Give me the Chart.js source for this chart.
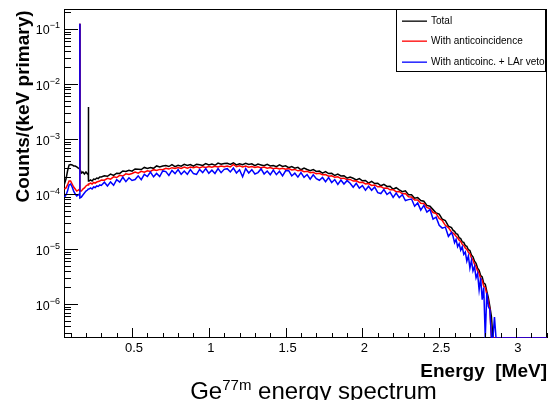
<!DOCTYPE html>
<html>
<head>
<meta charset="utf-8">
<title>Ge77m energy spectrum</title>
<script src="https://cdn.jsdelivr.net/npm/chart.js@4/dist/chart.umd.min.js"></script>
<style>
  html, body { margin: 0; padding: 0; background: #fff; }
  canvas { display: block; }
</style>
</head>
<body>
<canvas id="spectrum" width="549" height="400"></canvas>
<script>
// Ge77m spectrum. Counts are in units of 1e-4 counts/(keV primary),
// a 0 means an empty bin (ROOT draws those on the axis).
const energy = [
  0.06, 0.07, 0.08, 0.09, 0.10, 0.11, 0.12, 0.13, 0.14, 0.15,
  0.159, 0.160, 0.161, 0.17, 0.18, 0.19, 0.20, 0.21, 0.215, 0.216,
  0.217, 0.22, 0.23, 0.24, 0.25, 0.26, 0.27, 0.28, 0.29, 0.30,
  0.32, 0.34, 0.36, 0.38, 0.40, 0.42, 0.44, 0.46, 0.48, 0.50,
  0.52, 0.54, 0.56, 0.58, 0.60, 0.62, 0.64, 0.66, 0.68, 0.70,
  0.72, 0.74, 0.76, 0.78, 0.80, 0.82, 0.84, 0.86, 0.88, 0.90,
  0.92, 0.94, 0.96, 0.98, 1.00, 1.02, 1.04, 1.06, 1.08, 1.10,
  1.12, 1.14, 1.16, 1.18, 1.20, 1.22, 1.24, 1.26, 1.28, 1.30,
  1.32, 1.34, 1.36, 1.38, 1.40, 1.42, 1.44, 1.46, 1.48, 1.50,
  1.52, 1.54, 1.56, 1.58, 1.60, 1.62, 1.64, 1.66, 1.68, 1.70,
  1.72, 1.74, 1.76, 1.78, 1.80, 1.82, 1.84, 1.86, 1.88, 1.90,
  1.92, 1.94, 1.96, 1.98, 2.00, 2.02, 2.04, 2.06, 2.08, 2.10,
  2.12, 2.14, 2.16, 2.18, 2.20, 2.22, 2.24, 2.26, 2.28, 2.30,
  2.32, 2.34, 2.36, 2.38, 2.40, 2.42, 2.44, 2.46, 2.48, 2.50,
  2.52, 2.54, 2.56, 2.58,
  2.59, 2.60, 2.61, 2.62, 2.63, 2.64, 2.65, 2.66, 2.67, 2.68,
  2.69, 2.70, 2.71, 2.72, 2.73, 2.74, 2.75, 2.76, 2.77, 2.78,
  2.79, 2.80, 2.81, 2.82, 2.83, 2.84, 2.85, 2.86, 2.87, 2.88,
  2.89, 2.90,
  2.95, 3.00, 3.10, 3.20
];

const total = [
  1.52, 1.87, 2.62, 3.37, 3.44, 3.37, 3.23, 3.23, 3.10, 2.97,
  2.85, 1250, 2.85, 2.41, 2.51, 2.31, 2.51, 2.31, 2.31, 38,
  1.72, 1.72, 1.80, 1.72, 1.87, 1.84, 1.95, 1.91, 2.04, 2.04,
  2.15, 2.10, 2.30, 2.18, 2.39, 2.37, 2.62, 2.56, 2.71, 2.60,
  2.86, 2.83, 2.78, 3.04, 2.91, 3.04, 2.93, 3.24, 3.09, 3.22,
  3.28, 3.16, 3.41, 3.14, 3.33, 3.21, 3.46, 3.31, 3.43, 3.20,
  3.48, 3.40, 3.31, 3.57, 3.37, 3.49, 3.33, 3.65, 3.47, 3.58,
  3.62, 3.44, 3.69, 3.37, 3.55, 3.40, 3.63, 3.44, 3.53, 3.27,
  3.51, 3.38, 3.26, 3.46, 3.23, 3.30, 3.14, 3.38, 3.16, 3.25,
  3.01, 3.15, 2.95, 3.05, 2.76, 2.96, 2.79, 2.66, 2.79, 2.57,
  2.61, 2.40, 2.55, 2.35, 2.38, 2.17, 2.31, 2.13, 2.15, 1.94,
  2.04, 1.93, 1.81, 1.91, 1.74, 1.76, 1.58, 1.70, 1.55, 1.57,
  1.41, 1.50, 1.37, 1.38, 1.22, 1.30, 1.19, 1.10, 1.14, 0.97,
  0.97, 0.84, 0.86, 0.76, 0.74, 0.62, 0.60, 0.52, 0.45, 0.43,
  0.35, 0.33, 0.26, 0.245,
  0.22, 0.21, 0.19, 0.185, 0.16, 0.155, 0.135, 0.132, 0.115, 0.112,
  0.097, 0.094, 0.078, 0.072, 0.060, 0.055, 0.045, 0.041, 0.033, 0.031,
  0.024, 0.023, 0.017, 0.013, 0.009, 0.006, 0, 0, 0, 0,
  0, 0,
  0, 0, 0, 0
];

const antiCoinc = [
  1.23, 1.29, 1.46, 1.72, 1.72, 1.52, 1.34, 1.23, 1.13, 1.18,
  1.23, 1250, 1.13, 1.13, 1.23, 1.29, 1.40, 1.46, 1.46, 1.52,
  1.52, 1.52, 1.58, 1.52, 1.62, 1.58, 1.65, 1.69, 1.72, 1.80,
  1.78, 1.93, 1.86, 2.05, 1.99, 2.18, 2.12, 2.33, 2.27, 2.36,
  2.50, 2.40, 2.58, 2.49, 2.64, 2.58, 2.77, 2.68, 2.80, 2.76,
  2.94, 2.84, 3.01, 2.90, 3.03, 2.92, 3.08, 2.95, 3.10, 3.00,
  3.11, 2.98, 3.14, 3.04, 3.16, 3.07, 3.20, 3.09, 3.22, 3.12,
  3.24, 3.10, 3.45, 3.13, 3.25, 3.09, 3.21, 3.06, 3.17, 3.04,
  3.13, 2.99, 3.09, 2.95, 3.02, 2.89, 2.98, 2.85, 2.93, 2.82,
  2.89, 2.73, 2.80, 2.64, 2.70, 2.54, 2.60, 2.44, 2.49, 2.33,
  2.38, 2.23, 2.26, 2.11, 2.15, 2.01, 2.05, 1.91, 1.94, 1.81,
  1.84, 1.72, 1.74, 1.62, 1.64, 1.52, 1.55, 1.43, 1.46, 1.35,
  1.37, 1.27, 1.29, 1.19, 1.20, 1.10, 1.11, 1.01, 1.02, 0.89,
  0.88, 0.78, 0.78, 0.68, 0.67, 0.57, 0.54, 0.46, 0.44, 0.36,
  0.33, 0.27, 0.245, 0.205,
  0.195, 0.185, 0.17, 0.16, 0.145, 0.137, 0.122, 0.116, 0.104, 0.098,
  0.087, 0.082, 0.069, 0.063, 0.053, 0.048, 0.040, 0.036, 0.029, 0.027,
  0.021, 0.020, 0.015, 0.011, 0.008, 0, 0, 0, 0, 0,
  0, 0,
  0, 0, 0, 0
];

const larVeto = [
  0.88, 0.96, 1.13, 1.46, 1.52, 1.34, 1.13, 1.00, 0.92, 0.96,
  1.00, 1250, 0.85, 0.88, 0.96, 1.04, 1.13, 1.18, 1.23, 1.23,
  1.23, 1.23, 1.29, 1.23, 1.34, 1.31, 1.40, 1.37, 1.46, 1.43,
  1.64, 1.40, 1.66, 1.44, 1.83, 1.65, 2.02, 1.68, 1.97, 1.76,
  1.83, 2.14, 1.82, 2.27, 2.08, 2.50, 2.05, 2.37, 2.08, 2.63,
  2.55, 2.17, 2.68, 2.35, 2.79, 2.28, 2.62, 2.28, 2.79, 2.35,
  2.27, 2.80, 2.45, 2.91, 2.37, 2.71, 2.36, 2.89, 2.44, 2.81,
  2.89, 2.52, 2.97, 2.41, 2.76, 2.05, 2.90, 2.41, 2.77, 2.31,
  2.45, 2.86, 2.31, 2.62, 2.24, 2.72, 2.25, 2.59, 2.14, 2.64,
  2.67, 2.13, 2.39, 2.03, 2.45, 2.01, 2.26, 1.86, 2.23, 1.90,
  1.78, 2.00, 1.67, 1.99, 1.62, 1.83, 1.50, 1.80, 1.52, 1.75,
  1.57, 1.33, 1.57, 1.28, 1.42, 1.17, 1.38, 1.17, 1.34, 1.06,
  1.02, 1.20, 0.98, 1.08, 0.87, 1.04, 0.86, 0.97, 0.76, 0.79,
  0.81, 0.60, 0.69, 0.51, 0.62, 0.47, 0.52, 0.35, 0.38, 0.27,
  0.24, 0.25, 0.17, 0.20,
  0.17, 0.13, 0.15, 0.11, 0.125, 0.095, 0.11, 0.08, 0.088, 0.06,
  0.075, 0.045, 0.062, 0.04, 0.048, 0.03, 0.036, 0.018, 0.03, 0.012,
  0.02, 0, 0.016, 0.009, 0.008, 0, 0, 0.0058, 0, 0,
  0, 0,
  0, 0, 0, 0
];

const seriesNames = ['Total', 'With anticoincidence', 'With anticoinc. + LAr veto'];
const seriesColors = ['#000000', '#ff0000', '#0000ff'];

const xTickValues = [0.5, 1, 1.5, 2, 2.5, 3];
const xTickLabels = ['0.5', '1', '1.5', '2', '2.5', '3'];
const yDecades = [-6, -5, -4, -3, -2, -1];

const X_MIN = 0.057, X_MAX = 3.202;
const Y_MIN = 2.41e-7, Y_MAX = 0.231;
const UNIT = 1e-4;
const FONT = '"Liberation Sans", Arial, Helvetica, sans-serif';

function toPoints(counts) {
  return energy.map((e, i) => ({ x: e, y: counts[i] === 0 ? Y_MIN : counts[i] * UNIT }));
}

// ROOT look: frame under the histograms, ticks inside, 10^n labels, titles, legend box
const rootFrame = {
  id: 'rootFrame',
  beforeDatasetsDraw(chart) {
    const { ctx, chartArea: a } = chart;
    ctx.save();
    ctx.strokeStyle = '#000';
    ctx.lineWidth = 1;
    ctx.strokeRect(a.left + 0.5, a.top + 0.5, a.right - a.left - 1, a.bottom - a.top - 1);
    ctx.restore();
  },
  afterDatasetsDraw(chart) {
    const { ctx, chartArea: a } = chart;
    const xs = chart.scales.x, ys = chart.scales.y;
    ctx.save();
    ctx.strokeStyle = '#000';
    ctx.lineWidth = 1;
    ctx.beginPath();
    // x ticks
    for (let i = 1; i <= 32; i++) {
      const v = i / 10;
      if (v > X_MAX) break;
      const px = Math.round(xs.getPixelForValue(v)) + 0.5;
      const len = (i % 5 === 0) ? 10 : 5;
      ctx.moveTo(px, a.bottom);
      ctx.lineTo(px, a.bottom - len);
    }
    // y ticks
    for (let d = -7; d <= 0; d++) {
      for (let m = 1; m <= 9; m++) {
        const v = m * Math.pow(10, d);
        if (v < Y_MIN || v > Y_MAX) continue;
        const py = Math.round(ys.getPixelForValue(v)) + 0.5;
        const len = m === 1 ? 14 : 7;
        ctx.moveTo(a.left, py);
        ctx.lineTo(a.left + len, py);
      }
    }
    ctx.stroke();

    ctx.fillStyle = '#000';
    // x labels
    ctx.font = '13px ' + FONT;
    ctx.textAlign = 'center';
    ctx.textBaseline = 'alphabetic';
    xTickValues.forEach((v, i) => {
      ctx.fillText(xTickLabels[i], xs.getPixelForValue(v) + 2, 352);
    });
    // y labels 10^n
    yDecades.forEach(d => {
      const py = ys.getPixelForValue(Math.pow(10, d));
      ctx.font = '9px ' + FONT;
      const sup = '\u2212' + Math.abs(d);
      const sw = ctx.measureText(sup).width;
      ctx.textAlign = 'left';
      ctx.fillText(sup, 60 - sw, py - 0.5);
      ctx.font = '12.5px ' + FONT;
      ctx.textAlign = 'right';
      ctx.fillText('10', 60 - sw, py + 5.5);
    });

    // axis titles
    ctx.font = 'bold 19px ' + FONT;
    ctx.textAlign = 'right';
    ctx.fillText('Energy  [MeV]', a.right, 377);
    ctx.save();
    ctx.translate(29, 106.5);
    ctx.rotate(-Math.PI / 2);
    ctx.textAlign = 'center';
    ctx.fillText('Counts/(keV primary)', 0, 0);
    ctx.restore();

    // title Ge^77m energy spectrum
    ctx.textAlign = 'left';
    const parts = [['Ge', 24, 0], ['77m', 15, -9], [' energy spectrum', 24, 0]];
    let w = 0;
    parts.forEach(p => { ctx.font = p[1] + 'px ' + FONT; w += ctx.measureText(p[0]).width; });
    let tx = 313.5 - w / 2;
    parts.forEach(p => {
      ctx.font = p[1] + 'px ' + FONT;
      ctx.fillText(p[0], tx, 399 + p[2]);
      tx += ctx.measureText(p[0]).width;
    });

    // legend box
    const lx = 396, ly = a.top, lw = 149, lh = 62;
    ctx.fillStyle = '#fff';
    ctx.fillRect(lx, ly, lw, lh);
    ctx.strokeStyle = '#000';
    ctx.strokeRect(lx + 0.5, ly + 0.5, lw, lh);
    ctx.font = '10px ' + FONT;
    ctx.textBaseline = 'middle';
    seriesNames.forEach((name, i) => {
      const ry = Math.round(ly + 11.5 + i * 20.5);
      ctx.fillStyle = seriesColors[i];
      ctx.fillRect(lx + 6, ry - 0.5, 25, 1.3);
      ctx.fillStyle = '#000';
      ctx.fillText(name, lx + 35, ry);
    });
    ctx.restore();
  }
};

const seriesCounts = [total, antiCoinc, larVeto];

new Chart(document.getElementById('spectrum'), {
  type: 'line',
  data: {
    datasets: seriesCounts.map((c, i) => ({
      label: seriesNames[i],
      data: toPoints(c),
      borderColor: seriesColors[i],
      backgroundColor: seriesColors[i],
      borderWidth: 1.5,
      pointRadius: 0,
      tension: 0,
      fill: false,
      order: 3 - i
    }))
  },
  options: {
    responsive: false,
    animation: false,
    devicePixelRatio: 1,
    layout: { padding: { left: 64, right: 2, top: 9, bottom: 62 } },
    plugins: { legend: { display: false }, tooltip: { enabled: false } },
    scales: {
      x: { type: 'linear', min: X_MIN, max: X_MAX, display: false },
      y: { type: 'logarithmic', min: Y_MIN, max: Y_MAX, display: false }
    }
  },
  plugins: [rootFrame]
});
</script>
</body>
</html>
